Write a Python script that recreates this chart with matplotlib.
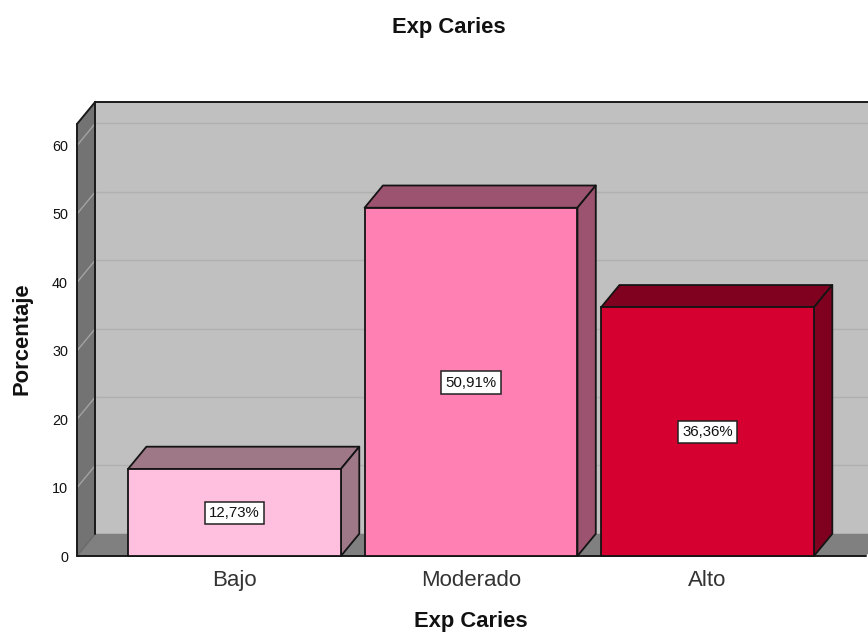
import matplotlib
matplotlib.use('Agg')
import matplotlib.pyplot as plt
from matplotlib.patches import Polygon

plt.rcParams['font.family'] = ['Liberation Sans', 'DejaVu Sans']

categories = ['Bajo', 'Moderado', 'Alto']
percentages = [12.73, 50.91, 36.36]
value_labels = ['12,73%', '50,91%', '36,36%']
y_ticks = [0, 10, 20, 30, 40, 50, 60]

front_colors = ['#ffc0e0', '#ff80b2', '#d60030']
shade_colors = ['#9f7888', '#9c5370', '#80001f']

WIDTH, HEIGHT = 868, 632
BAR_WIDTH = 0.9
Y_MAX = 63.15
# 3D offset of the back plane, in data units
DEPTH_X = 0.0775
DEPTH_Y = 3.25
X_MIN, X_MAX = -0.666, 2.67


def face(ax, points, color, zorder, edge='none', lw=0.0):
    ax.add_patch(Polygon(points, closed=True, facecolor=color, edgecolor=edge,
                         linewidth=lw, joinstyle='round', clip_on=False, zorder=zorder))


def draw_walls(ax):
    dx, dy = DEPTH_X, DEPTH_Y
    # back wall, side wall and floor
    face(ax, [(X_MIN + dx, dy), (X_MAX + dx, dy), (X_MAX + dx, Y_MAX + dy), (X_MIN + dx, Y_MAX + dy)],
         '#c0c0c0', 1)
    face(ax, [(X_MIN, 0), (X_MIN + dx, dy), (X_MIN + dx, Y_MAX + dy), (X_MIN, Y_MAX)], '#737373', 2)
    face(ax, [(X_MIN, 0), (X_MAX, 0), (X_MAX + dx, dy), (X_MIN + dx, dy)], '#808080', 2)

    for v in y_ticks[1:]:
        ax.plot([X_MIN + dx, X_MAX + dx], [v + dy, v + dy], color='#b0b0b0', lw=1.0,
                clip_on=False, zorder=3)
        ax.plot([X_MIN, X_MIN + dx], [v, v + dy], color='#a3a3a3', lw=1.0, clip_on=False, zorder=3)

    # outline of the box
    edge = dict(color='#1a1a1a', lw=1.4, clip_on=False, zorder=4, solid_capstyle='round')
    ax.plot([X_MIN, X_MIN], [0, Y_MAX], **edge)
    ax.plot([X_MIN + dx, X_MIN + dx], [dy, Y_MAX + dy], **edge)
    ax.plot([X_MIN, X_MIN + dx], [Y_MAX, Y_MAX + dy], **edge)
    ax.plot([X_MIN + dx, X_MAX + dx], [Y_MAX + dy, Y_MAX + dy], **edge)
    ax.plot([X_MIN, X_MAX], [0, 0], **edge)
    ax.plot([X_MIN, X_MIN + dx], [0, dy], color='#6a6a6a', lw=1.0, clip_on=False, zorder=3)


def draw_bars(ax):
    dx, dy = DEPTH_X, DEPTH_Y
    half = BAR_WIDTH / 2
    for i, value in enumerate(percentages):
        left, right = i - half, i + half
        face(ax, [(left, value), (right, value), (right + dx, value + dy), (left + dx, value + dy)],
             shade_colors[i], 5, '#141414', 1.3)
        face(ax, [(right, 0), (right + dx, dy), (right + dx, value + dy), (right, value)],
             shade_colors[i], 5, '#141414', 1.3)
        ax.bar(i, value, width=BAR_WIDTH, color=front_colors[i], edgecolor='#141414',
               linewidth=1.3, zorder=6, clip_on=False)
        ax.text(i, value / 2 + 0.12, value_labels[i], ha='center', va='center_baseline', fontsize=10.8,
                color='#111111', zorder=7,
                bbox=dict(boxstyle='square,pad=0.27', fc='white', ec='#222222', lw=1.1))


def plot_exp_caries():
    fig = plt.figure(figsize=(WIDTH / 100, HEIGHT / 100), dpi=100, facecolor='white')
    ax = fig.add_axes([77 / WIDTH, 1 - 556 / HEIGHT, (866 - 77) / WIDTH, (556 - 124) / HEIGHT])
    ax.set_xlim(X_MIN, X_MAX)
    ax.set_ylim(0, Y_MAX)
    for spine in ax.spines.values():
        spine.set_visible(False)
    ax.patch.set_visible(False)

    draw_walls(ax)
    draw_bars(ax)

    ax.set_xticks(range(len(categories)))
    ax.set_xticklabels(categories, fontsize=16, color='#333333')
    ax.set_yticks(y_ticks)
    ax.set_yticklabels([str(v) for v in y_ticks], fontsize=10.4, color='#111111')
    ax.tick_params(axis='x', length=0, pad=10)
    ax.tick_params(axis='y', length=0, pad=6.5)

    fig.text(449 / WIDTH, 1 - 27 / HEIGHT, 'Exp Caries', ha='center', va='center',
             fontsize=15.8, fontweight='bold', color='#111111')
    fig.text(471 / WIDTH, 1 - 622 / HEIGHT, 'Exp Caries', ha='center', va='center',
             fontsize=15.8, fontweight='bold', color='#111111')
    fig.text(22 / WIDTH, 1 - 339 / HEIGHT, 'Porcentaje', ha='center', va='center', rotation=90,
             fontsize=15.8, fontweight='bold', color='#111111')

    fig.savefig('out.png', dpi=100)


if __name__ == "__main__":
    plot_exp_caries()
